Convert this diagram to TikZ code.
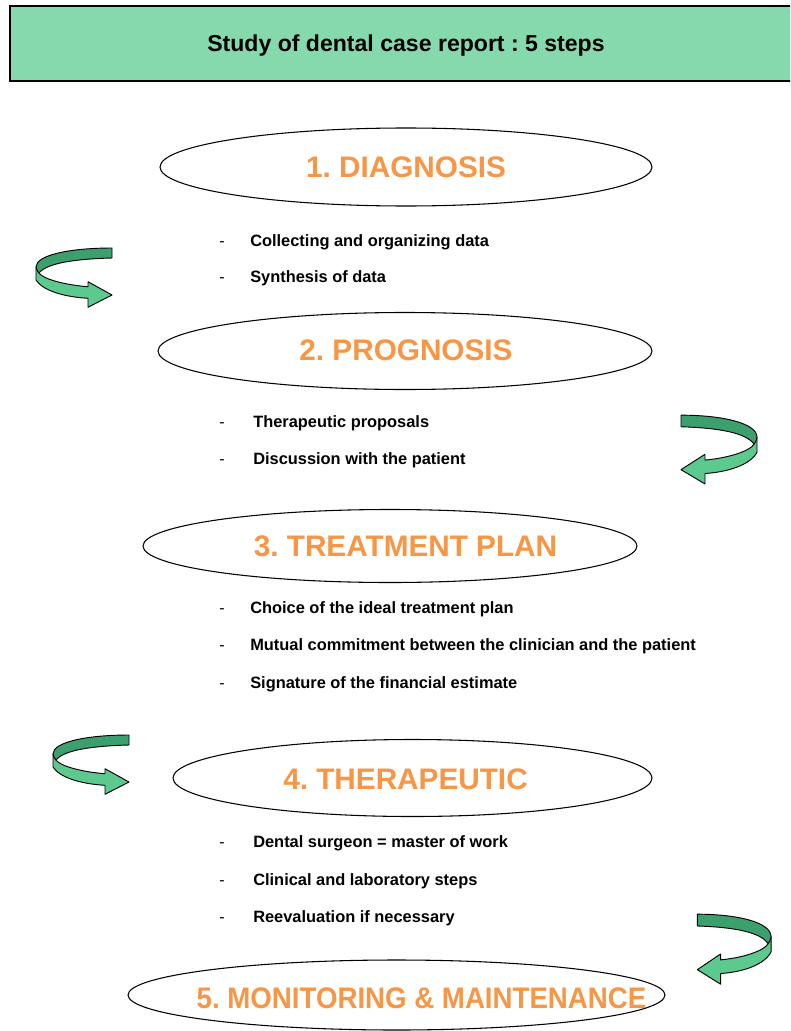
\documentclass[tikz,border=0pt]{standalone}
\usepackage{fontspec}
\setmainfont{Liberation Sans}
\setsansfont{Liberation Sans}
\usetikzlibrary{shapes.geometric}
\definecolor{headgreen}{RGB}{134,217,173}
\definecolor{titleorange}{RGB}{247,150,70}
\definecolor{arrlight}{RGB}{92,201,142}
\definecolor{arrdark}{RGB}{60,160,110}
\frenchspacing
\tikzset{
  ell/.style={ellipse, draw=black, line width=0.8pt, inner sep=0pt},
  steptitle/.style={font=\fontsize{22.3}{26}\selectfont\bfseries\frenchspacing, text=titleorange, inner sep=0pt},
  item/.style={font=\fontsize{12.3}{14}\selectfont\bfseries, anchor=base west, inner sep=0pt},
  bulletdash/.style={font=\fontsize{12}{14}\selectfont, anchor=base west, inner sep=0pt},
  uturn/.pic={
    \filldraw[fill=arrlight, draw=black, line width=0.7pt, line join=round]
      (1,20) -- (1,33) .. controls (8,44) and (30,50) .. (53,51.3) -- (53,60.3) -- (77,48)
      -- (53,34.7) -- (53,39.7) .. controls (30,38) and (8,32) .. (4,26) -- cycle;
    \filldraw[fill=arrdark, draw=black, line width=0.7pt, line join=round]
      (77,1) .. controls (35,1) and (1,8) .. (1,20) .. controls (1.5,23) and (3,25) .. (4,26)
      .. controls (12,16) and (40,12) .. (77,11) -- cycle;
  }
}
\begin{document}
\begin{tikzpicture}[x=0.75pt,y=-0.75pt]
\useasboundingbox (0,0) rectangle (790,1031);
\clip (0,0) rectangle (790,1031);
\fill[white] (0,0) rectangle (790,1031);

% header
\node[draw=black, line width=0.8pt, fill=headgreen, minimum width=592.5pt, minimum height=56.25pt, inner sep=0pt] (head) at (405,43.5) {};
\node[font=\fontsize{17.3}{20}\selectfont\bfseries\frenchspacing, anchor=base, inner sep=0pt] (headtext) at (406,52) {Study of dental case report : 5 steps};

% ellipses
\node[ell, minimum width=369pt, minimum height=58.5pt] (e1) at (406,167) {};
\node[ell, minimum width=370.5pt, minimum height=57.75pt] (e2) at (405,351) {};
\node[ell, minimum width=370.5pt, minimum height=54.75pt] (e3) at (390,546) {};
\node[ell, minimum width=359.25pt, minimum height=57.75pt] (e4) at (412.5,778) {};
\node[ell, minimum width=402.75pt, minimum height=52.5pt] (e5) at (396.5,995) {};

\node[steptitle] (t1) at (406,167) {1. DIAGNOSIS};
\node[steptitle] (t2) at (406,350) {2. PROGNOSIS};
\node[steptitle] (t3) at (405.5,546) {3. TREATMENT PLAN};
\node[steptitle] (t4) at (405.5,779) {4. THERAPEUTIC};
\node[steptitle] (t5) at (421.5,998) {\scalebox{0.93}[1]{5. MONITORING \& MAINTENANCE}};

% items
\node[bulletdash] (d11) at (219,246) {-};
\node[item] (i11) at (250,246) {Collecting and organizing data};
\node[bulletdash] (d12) at (219,282) {-};
\node[item] (i12) at (250,282) {Synthesis of data};

\node[bulletdash] (d21) at (219,427) {-};
\node[item] (i21) at (253,427) {Therapeutic proposals};
\node[bulletdash] (d22) at (219,464) {-};
\node[item] (i22) at (253,464) {Discussion with the patient};

\node[bulletdash] (d31) at (219,613) {-};
\node[item] (i31) at (250,613) {Choice of the ideal treatment plan};
\node[bulletdash] (d32) at (219,650) {-};
\node[item] (i32) at (250,650) {Mutual commitment between the clinician and the patient};
\node[bulletdash] (d33) at (219,688) {-};
\node[item] (i33) at (250,688) {Signature of the financial estimate};

\node[bulletdash] (d41) at (219,847) {-};
\node[item] (i41) at (253,847) {Dental surgeon = master of work};
\node[bulletdash] (d42) at (219,885) {-};
\node[item] (i42) at (253,885) {Clinical and laboratory steps};
\node[bulletdash] (d43) at (219,922) {-};
\node[item] (i43) at (253,922) {Reevaluation if necessary};

% u-turn arrows
\pic at (35,247) {uturn};
\pic[xscale=-1, yscale=1.16] at (758,414) {uturn};
\pic at (52,734) {uturn};
\pic[xscale=-0.97, yscale=1.18] at (772,913) {uturn};
\end{tikzpicture}
\end{document}
